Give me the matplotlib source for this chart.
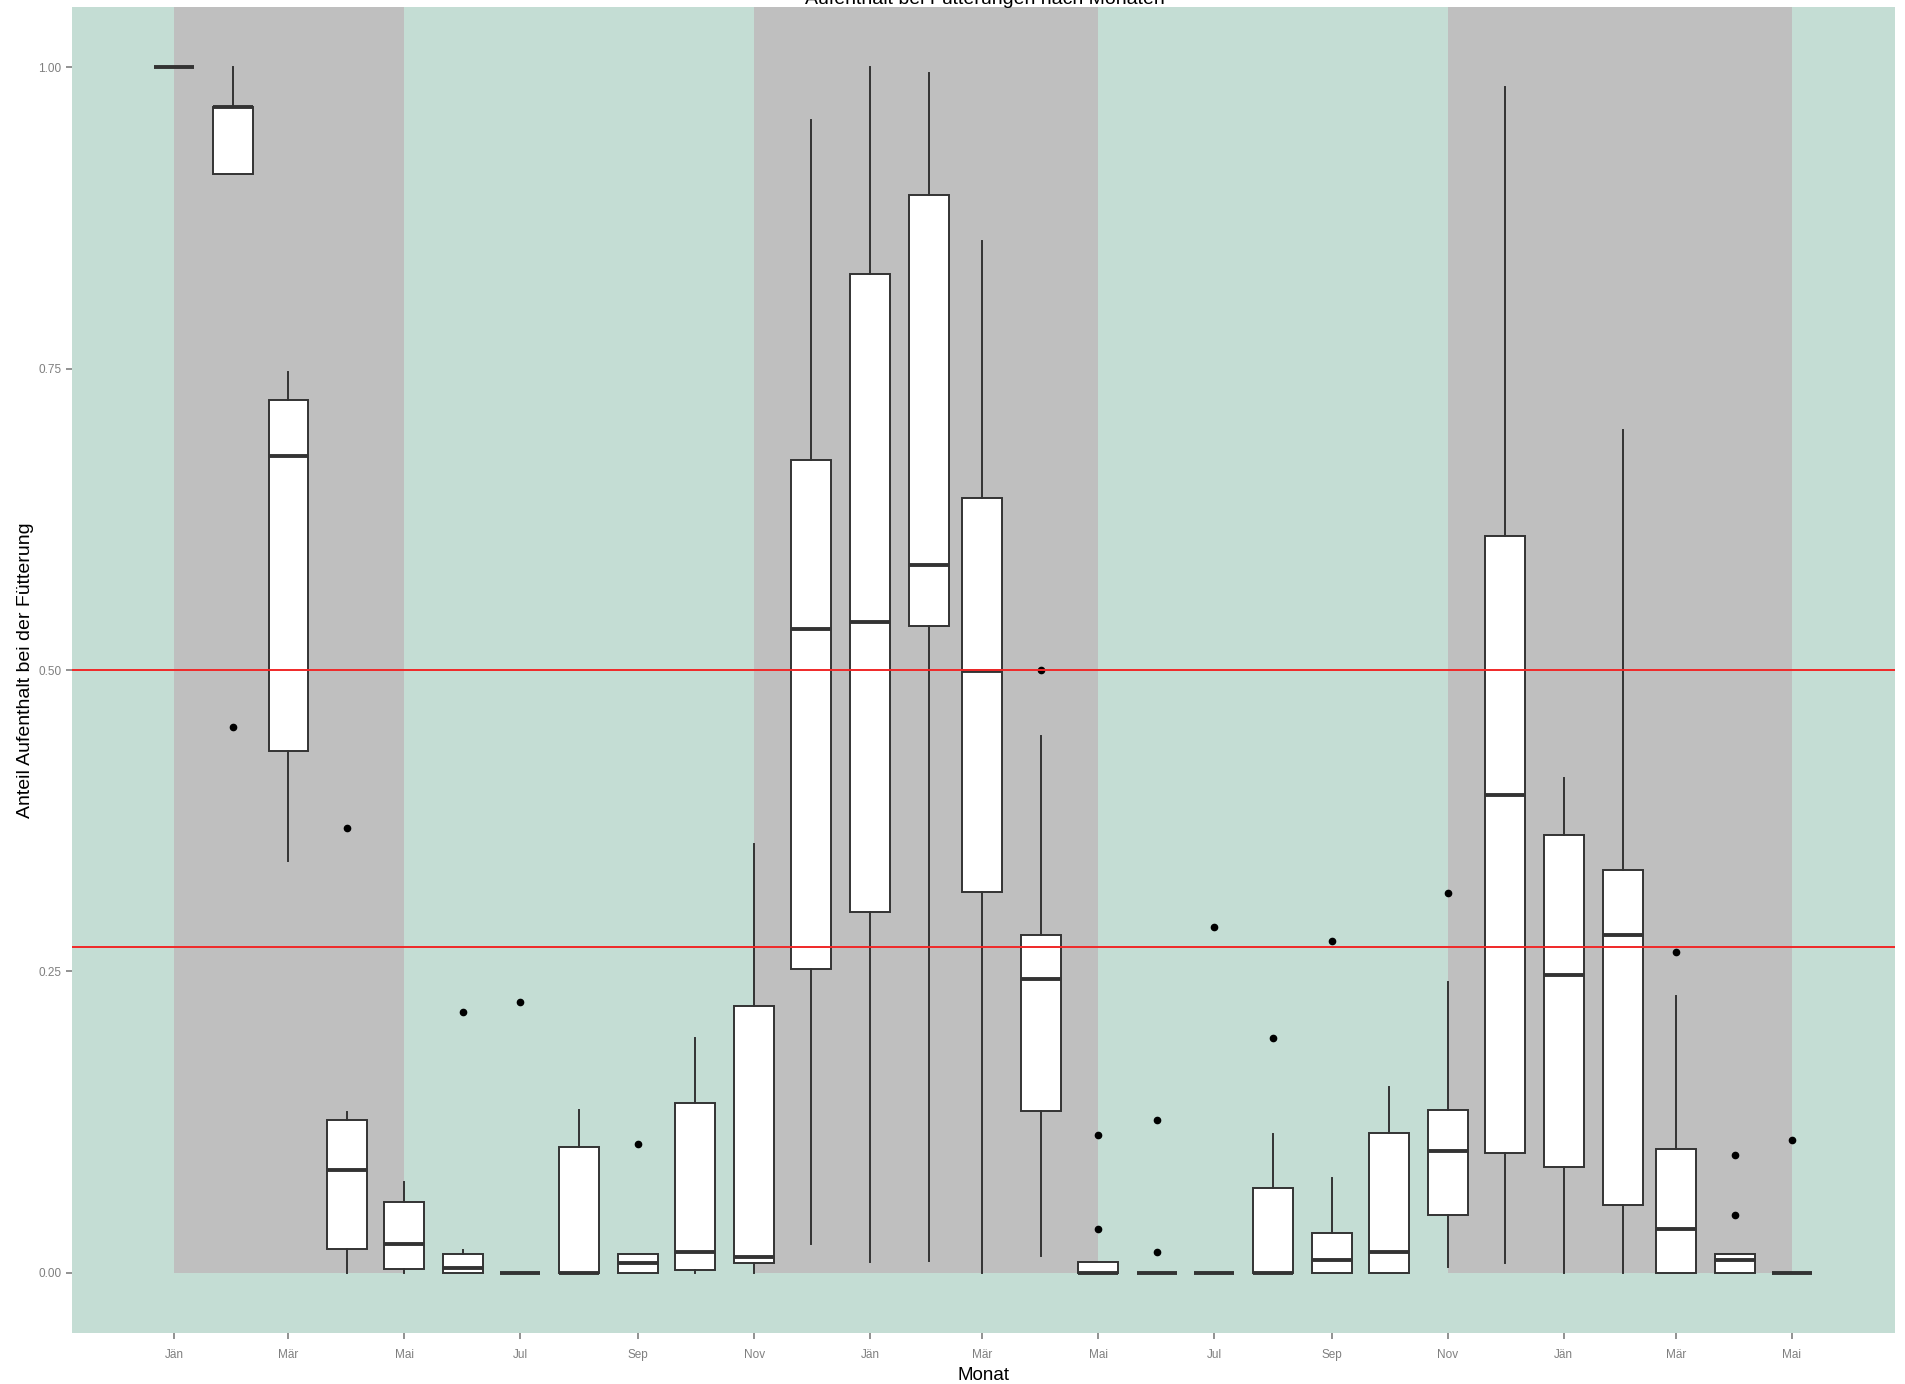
import numpy as np
import pandas as pd
import matplotlib
matplotlib.use("Agg")
import matplotlib.pyplot as plt
import matplotlib.dates as mdates
from matplotlib.ticker import FuncFormatter

plt.rcParams['font.family'] = ['Liberation Sans', 'DejaVu Sans']

# one box per month
months = ["2012-01", "2012-02", "2012-03", "2012-04", "2012-05", "2012-06",
          "2012-07", "2012-08", "2012-09", "2012-10", "2012-11", "2012-12",
          "2013-01", "2013-02", "2013-03", "2013-04", "2013-05", "2013-06",
          "2013-07", "2013-08", "2013-09", "2013-10", "2013-11", "2013-12",
          "2014-01", "2014-02", "2014-03", "2014-04", "2014-05"]

whis_lo = [1.0, 0.912, 0.342, 0.0, 0.0, 0.0, 0.0, 0.0, 0.0, 0.0, 0.0, 0.024,
           0.009, 0.010, 0.0, 0.014, 0.0, 0.0, 0.0, 0.0, 0.0, 0.0, 0.005, 0.008,
           0.0, 0.0, 0.0, 0.0, 0.0]
q1 = [1.0, 0.912, 0.433, 0.020, 0.003, 0.0, 0.0, 0.0, 0.0, 0.002, 0.008, 0.252,
      0.2995, 0.537, 0.316, 0.134, 0.0, 0.0, 0.0, 0.0, 0.0, 0.0, 0.048, 0.099,
      0.088, 0.0565, 0.0, 0.0, 0.0]
median = [1.0, 0.967, 0.678, 0.085, 0.024, 0.004, 0.0, 0.0, 0.008, 0.017, 0.013, 0.5345,
          0.540, 0.587, 0.499, 0.244, 0.0, 0.0, 0.0, 0.0, 0.0105, 0.017, 0.101, 0.396,
          0.247, 0.280, 0.036, 0.0108, 0.0]
q3 = [1.0, 0.967, 0.724, 0.127, 0.059, 0.016, 0.0, 0.104, 0.016, 0.141, 0.221, 0.674,
      0.829, 0.894, 0.643, 0.280, 0.009, 0.0, 0.0, 0.070, 0.033, 0.116, 0.135, 0.611,
      0.3635, 0.334, 0.103, 0.016, 0.0]
whis_hi = [1.0, 1.0, 0.747, 0.133, 0.075, 0.019, 0.0, 0.135, 0.016, 0.195, 0.356, 0.956,
           1.0, 0.995, 0.856, 0.445, 0.009, 0.0, 0.0, 0.1155, 0.079, 0.154, 0.2416, 0.984,
           0.4106, 0.699, 0.2297, 0.016, 0.0]
outliers = [[], [0.453], [], [0.369], [], [0.216], [0.225], [], [0.107], [], [], [],
            [], [], [], [0.500], [0.114, 0.036], [0.127, 0.017], [0.287], [0.195],
            [0.275], [], [0.315], [],
            [], [], [0.266], [0.098, 0.0476], [0.110]]

# feeding seasons (grey background)
season_start = ["2012-01-01", "2012-11-01", "2013-11-01"]
season_end = ["2012-05-01", "2013-05-01", "2014-05-01"]

ref_lines = [0.5, 0.27]

month_labels = {1: "Jän", 3: "Mär", 5: "Mai", 7: "Jul", 9: "Sep", 11: "Nov"}

box_days = 21

pos = mdates.date2num(pd.to_datetime([m + "-01" for m in months]))
stats = []
for i in range(len(months)):
    stats.append(dict(whislo=whis_lo[i], q1=q1[i], med=median[i], q3=q3[i],
                      whishi=whis_hi[i], fliers=outliers[i]))

fig = plt.figure(figsize=(19.05, 13.84), dpi=100)
ax = fig.add_axes([0.0376, 0.0368, 0.957, 0.958])
ax.set_facecolor('#C4DDD4')
for s in ax.spines.values():
    s.set_visible(False)

ylo, yhi = -0.05, 1.05
for s, e in zip(season_start, season_end):
    ax.axvspan(mdates.date2num(pd.Timestamp(s)), mdates.date2num(pd.Timestamp(e)),
               ymin=(0 - ylo) / (yhi - ylo), ymax=1, color='#BFBFBF', lw=0, zorder=0)

ax.bxp(stats, positions=pos, widths=box_days, showcaps=False, patch_artist=True,
       boxprops=dict(facecolor='white', edgecolor='#333333', linewidth=1.4),
       medianprops=dict(color='#333333', linewidth=2.8),
       whiskerprops=dict(color='#333333', linewidth=1.4),
       flierprops=dict(marker='o', markerfacecolor='black', markeredgecolor='black',
                       markersize=4.5),
       zorder=2)

for y in ref_lines:
    ax.axhline(y, color='#F02828', lw=1.4, zorder=3)

xmin = pos.min() - box_days / 2
xmax = pos.max() + box_days / 2
span = xmax - xmin
ax.set_xlim(xmin - 0.05 * span, xmax + 0.05 * span)
ax.set_ylim(ylo, yhi)

ax.xaxis.set_major_locator(mdates.MonthLocator(bymonth=list(month_labels.keys())))
ax.xaxis.set_major_formatter(FuncFormatter(lambda x, p: month_labels[mdates.num2date(x).month]))
ax.set_yticks([0, 0.25, 0.5, 0.75, 1.0])
ax.yaxis.set_major_formatter(FuncFormatter(lambda v, p: f"{v:.2f}"))
ax.tick_params(axis='both', colors='#7F7F7F', labelsize=8.5, length=4.5, width=1.2, pad=3)
ax.tick_params(axis='x', pad=7)

ax.set_xlabel("Monat", fontsize=13.5, labelpad=4)
ax.set_ylabel("Anteil Aufenthalt bei der Fütterung", fontsize=14, labelpad=3)
fig.text(0.517, 0.997, "Aufenthalt bei Fütterungen nach Monaten", ha='center',
         va='baseline', fontsize=14)

fig.savefig("out.png", dpi=100)
